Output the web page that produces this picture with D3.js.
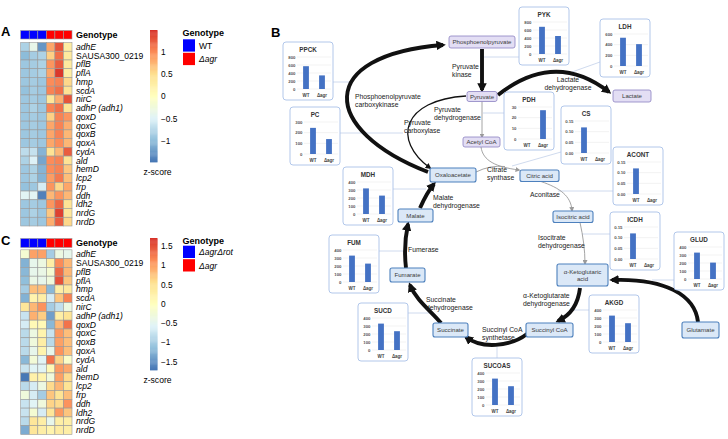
<!DOCTYPE html>
<html><head><meta charset="utf-8">
<script src="https://cdn.jsdelivr.net/npm/d3@7"></script>
<style>body{margin:0;background:#fff}svg{display:block;font-family:"Liberation Sans",Arial,sans-serif}</style>
</head><body><svg id="c" width="728" height="439"></svg>
<script>
// ---------------- DATA ----------------
const genes = ["adhE","SAUSA300_0219","pflB","pflA","hmp","scdA","nirC","adhP (adh1)","qoxD","qoxC","qoxB","qoxA","cydA","ald","hemD","lcp2","frp","ddh","ldh2","nrdG","nrdD"];
const genotypesA = ["WT","WT","WT","Δagr","Δagr","Δagr"];
const genotypesC = ["ΔagrΔrot","ΔagrΔrot","ΔagrΔrot","Δagr","Δagr","Δagr"];
const zA = [
 [-0.8,-0.35,-1.25,0.85,1.3,0.3],
 [-1.0,-0.85,-0.8,0.6,1.15,0.35],
 [-0.9,-0.85,-0.8,0.95,1.25,0.35],
 [-0.9,-0.85,-0.8,0.85,1.45,0.3],
 [-0.9,-0.85,-0.9,1.0,1.05,0.55],
 [-0.95,-0.85,-0.9,1.05,1.15,0.45],
 [-0.9,-0.85,-0.9,0.4,0.8,1.3],
 [-0.9,-0.8,-0.9,1.05,1.15,0.45],
 [-0.9,-0.85,-0.9,0.6,1.05,0.95],
 [-0.9,-0.85,-0.9,0.85,1.05,0.8],
 [-0.9,-0.85,-0.9,0.85,1.05,0.75],
 [-0.9,-0.85,-0.9,0.85,1.0,0.75],
 [-0.7,-0.65,-1.05,0.45,0.75,1.25],
 [-0.8,-0.5,-1.15,1.0,1.05,0.45],
 [-0.9,-0.8,-1.05,1.0,1.05,0.65],
 [-0.9,-0.8,-1.05,0.9,1.1,0.7],
 [-0.95,-0.9,-0.55,0.95,0.55,0.85],
 [-0.45,-0.45,-1.4,0.75,0.95,0.75],
 [-0.9,-0.85,-0.9,0.95,1.2,0.45],
 [-0.9,-0.8,-0.9,0.65,1.4,0.4],
 [-0.9,-0.85,-0.9,0.8,1.25,0.55]
];
const zC = [
 [-0.2,1.0,1.0,-1.0,-0.35,-0.45],
 [-1.25,-0.45,-0.35,0.3,1.15,0.85],
 [-1.2,-0.45,-0.4,-0.2,1.35,0.85],
 [-1.15,-0.4,-0.45,-0.3,1.5,0.75],
 [-1.0,0.8,0.8,-1.2,0.3,0.4],
 [-1.25,0.2,0.3,-0.65,0.75,1.2],
 [0.45,0.85,1.1,-1.0,-0.8,-0.35],
 [-0.75,0.9,0.7,-1.4,0.3,0.5],
 [-0.65,0.1,0.1,-1.2,0.85,1.3],
 [-0.85,-0.35,0.2,-0.75,1.05,0.8],
 [-0.85,-0.3,0.3,-0.85,1.0,0.8],
 [-0.85,-0.45,0.2,-0.45,1.1,0.8],
 [-1.2,-0.25,-0.55,1.3,0.65,-0.1],
 [-0.75,-0.55,-0.55,0.1,1.05,0.95],
 [-1.7,0.25,0.2,-0.3,1.0,0.6],
 [-0.85,-0.65,-0.35,0.6,0.85,0.5],
 [-0.3,-0.65,-1.0,0.75,0.5,0.8],
 [-0.75,-0.55,-0.3,0.65,0.6,1.1],
 [-0.75,-0.2,-0.65,0.45,1.05,0.75],
 [-0.85,0.45,0.3,-0.45,0.3,0.3],
 [-1.3,0.45,0.3,0.2,0.35,0.3]
];
const zRangeA = [-1.47, 1.49];
const zRangeC = [-1.72, 1.71];
const zTicksA = [1, 0.5, 0, -0.5, -1];
const zTicksC = [1.5, 1, 0.5, 0, -0.5, -1, -1.5];

const enzymes     = ["PPCK","PC","PYK","LDH","PDH","CS","ACONT","ICDH","GLUD","MDH","FUM","SUCD","AKGD","SUCOAS"];
const wtActivity  = [570, 245, 680, 530, 0, 0.12, 0.12, 0.12, 330, 320, 330, 330, 330, 330];
const agrActivity = [340, 140, 450, 410, 27, 0, 0, 0, 205, 230, 230, 235, 235, 235];
const activityMax = [800, 300, 800, 600, 30, 0.15, 0.15, 0.15, 400, 400, 400, 400, 400, 400];
const activityStep= [200, 100, 200, 200, 10, 0.05, 0.05, 0.05, 100, 100, 100, 100, 100, 100];
const strains = ["WT","Δagr"];

// ---------------- LAYOUT ----------------
const svg = d3.select("#c");
svg.append("rect").attr("width",728).attr("height",439).attr("fill","#fff");

const colorStops = ["#4575b4","#91bfdb","#e0f3f8","#ffffbf","#fee090","#fc8d59","#d73027"];
function makeColor(range){
  return d3.scaleLinear().domain(d3.range(7).map(i=>range[0]+(range[1]-range[0])*i/6)).range(colorStops).interpolate(d3.interpolateRgb);
}

function heatmap(z, geno, range, ticks, legendNames, cfg){
  const g = svg.append("g");
  const color = makeColor(range);
  const x = d3.scaleBand().domain(d3.range(6)).range([20.7,72]);
  const y = d3.scaleBand().domain(genes).range([cfg.c0,cfg.c1]);
  const gColor = d3.scaleOrdinal().domain(legendNames).range(["#0000ff","#ff0000"]);
  g.selectAll("rect.h").data(geno).join("rect").attr("class","h")
    .attr("x",(d,i)=>x(i)).attr("y",cfg.h0).attr("width",x.bandwidth()).attr("height",cfg.h1-cfg.h0)
    .attr("fill",d=>gColor(d)).attr("stroke","#999").attr("stroke-width",0.6);
  g.append("text").attr("x",76).attr("y",(cfg.h0+cfg.h1)/2+3.3).attr("font-size",9).attr("font-weight","bold").text("Genotype");
  z.forEach((row,ri)=>{
    g.selectAll(null).data(row).join("rect")
      .attr("x",(d,i)=>x(i)).attr("y",y(genes[ri])).attr("width",x.bandwidth()).attr("height",y.bandwidth())
      .attr("fill",d=>color(d)).attr("stroke","#999").attr("stroke-width",0.6);
  });
  g.selectAll("text.gl").data(genes).join("text").attr("class","gl")
    .attr("x",76).attr("y",d=>y(d)+y.bandwidth()/2+3.1).attr("font-size",8.6)
    .attr("font-style",d=>d.startsWith("SAUSA")?"normal":"italic").text(d=>d);
  const cb = d3.scaleLinear().domain(range).range([cfg.b1,cfg.b0]);
  const n = 120;
  g.selectAll("rect.cb").data(d3.range(n)).join("rect").attr("class","cb")
    .attr("x",150).attr("width",7.5)
    .attr("y",i=>cb(range[0]+(range[1]-range[0])*(i+1)/n)).attr("height",(cfg.b1-cfg.b0)/n+0.4)
    .attr("fill",i=>color(range[0]+(range[1]-range[0])*(i+0.5)/n));
  g.selectAll("text.cbt").data(ticks).join("text").attr("class","cbt")
    .attr("x",161).attr("y",d=>cb(d)+3).attr("font-size",8.3)
    .text(d=>d3.format("")(d).replace("-","\u2212"));
  g.append("text").attr("x",157.5).attr("y",cfg.zs).attr("text-anchor","middle").attr("font-size",8.6).text("z-score");
  g.append("text").attr("x",182.5).attr("y",cfg.lt).attr("font-size",9).attr("font-weight","bold").text("Genotype");
  g.selectAll("rect.lg").data(legendNames).join("rect").attr("class","lg")
    .attr("x",183).attr("y",(d,i)=>cfg.ls+i*13.5).attr("width",12).attr("height",12.3).attr("fill",d=>gColor(d));
  g.selectAll("text.lgt").data(legendNames).join("text").attr("class","lgt")
    .attr("x",199).attr("y",(d,i)=>cfg.ls+i*13.5+9.3).attr("font-size",8.6)
    .attr("font-style",d=>d==="WT"?"normal":"italic").text(d=>d);
}

heatmap(zA, genotypesA, zRangeA, zTicksA, ["WT","Δagr"],
  {h0:30.5,h1:39,c0:42.5,c1:226,b0:30,b1:162,zs:175,lt:35.5,ls:39.3});
heatmap(zC, genotypesC, zRangeC, zTicksC, ["ΔagrΔrot","Δagr"],
  {h0:238.5,h1:247.5,c0:249.8,c1:434.5,b0:238,b1:370,zs:383,lt:244,ls:245.7});

[["A",1,36],["B",271,37],["C",1,245]].forEach(([t,x,y])=>
  svg.append("text").attr("x",x).attr("y",y).attr("font-size",13).attr("font-weight","bold").text(t));

// ---------------- PANEL B ----------------
const defs = svg.append("defs");
function marker(id,size,fill){
  defs.append("marker").attr("id",id).attr("viewBox","0 0 10 10").attr("refX",7).attr("refY",5)
    .attr("markerWidth",size).attr("markerHeight",size).attr("markerUnits","userSpaceOnUse").attr("orient","auto")
    .append("path").attr("d","M0,0 L10,5 L0,10 z").attr("fill",fill);
}
marker("ahT",9.5,"#111"); marker("ahS",6,"#111"); marker("ahG",5,"#9a9a9a");

const connectors = [[333,82,350,82],[339,133,403,133],[519,57,483,57],[600,62,572,72],[504,113,483,113],
  [561,152,512,166],[613,191,558,191],[610,234,582,234],[674,280,652,280],[589,310,574,310],
  [497,358,497,347],[407,313,431,313],[378,251,405,251],[393,189,426,189]];
svg.append("g").selectAll("line").data(connectors).join("line")
  .attr("x1",d=>d[0]).attr("y1",d=>d[1]).attr("x2",d=>d[2]).attr("y2",d=>d[3])
  .attr("stroke","#c9d6ec").attr("stroke-width",0.9);

const arrows = [
  {d:"M428,172 C320,130 315,55 443,45", t:"T"},
  {d:"M482,49 L482,90", t:"T"},
  {d:"M498,95 Q555,50 609,92", t:"T"},
  {d:"M466,96 C402,100 392,140 430,168", t:"S"},
  {d:"M482,101.5 L482,137", t:"G"},
  {d:"M481,147 C483,161 496,167 519,170", t:"G"},
  {d:"M476,172 Q490,165 505,166.5", t:"G0"},
  {d:"M541,181.5 C560,188 571,196 572,210.5", t:"G"},
  {d:"M580,222.5 C583,236 585,250 585,263.5", t:"G"},
  {d:"M698,322 C695,295 665,278 612,280", t:"T"},
  {d:"M580,288 C578,305 571,315 558,321", t:"T"},
  {d:"M527,334 C510,347 481,349 466,337", t:"T"},
  {d:"M441,323 C431,311 416,300 410,285", t:"T"},
  {d:"M406,268 C404,251 405,238 408,224", t:"T"},
  {d:"M420,208 C424,199 428,191 434,184", t:"T"}
];
svg.append("g").selectAll("path").data(arrows).join("path")
  .attr("d",a=>a.d).attr("fill","none")
  .attr("stroke",a=>a.t[0]==="G"?"#9a9a9a":"#111")
  .attr("stroke-width",a=>a.t==="T"?3.9:(a.t==="S"?1.3:0.9))
  .attr("marker-end",a=>a.t==="G0"?null:`url(#ah${a.t})`);

const metabolites = [
  {n:["Phosphoenolpyruvate"],x:449,y:36,w:66,h:12,p:true},
  {n:["Pyruvate"],x:467,y:91.5,w:30,h:10,p:true},
  {n:["Lactate"],x:613,y:90,w:38,h:12,p:true},
  {n:["Acetyl CoA"],x:463,y:137,w:37,h:10,p:true},
  {n:["Oxaloacetate"],x:430,y:168,w:46,h:14},
  {n:["Citric acid"],x:520,y:170,w:39,h:11.5},
  {n:["Isocitric acid"],x:553,y:211,w:40,h:11.5},
  {n:["α-Ketoglutaric","acid"],x:557,y:264,w:51,h:22},
  {n:["Malate"],x:398,y:209,w:35,h:13},
  {n:["Fumarate"],x:390,y:268,w:35,h:14},
  {n:["Succinate"],x:433,y:323,w:35,h:14},
  {n:["Succinyl CoA"],x:526,y:323,w:47,h:14},
  {n:["Glutamate"],x:682,y:322,w:37,h:16}
];
const mg = svg.append("g").selectAll("g").data(metabolites).join("g");
mg.append("rect").attr("x",d=>d.x).attr("y",d=>d.y).attr("width",d=>d.w).attr("height",d=>d.h).attr("rx",2)
  .attr("fill",d=>d.p?"#e3def4":"#dbe8f7").attr("stroke",d=>d.p?"#8c82c2":"#4d80bd").attr("stroke-width",d=>d.p?0.8:1.1);
mg.each(function(d){
  const s=d3.select(this);
  d.n.forEach((t,i)=>s.append("text").attr("x",d.x+d.w/2)
    .attr("y",d.y+d.h/2+2.2+(i-(d.n.length-1)/2)*7.2).attr("text-anchor","middle")
    .attr("font-size",6.1).attr("fill","#3a3a3a").text(t));
});

const enzymeLabels = [
  {t:["Pyruvate","kinase"],x:452,y:67,a:"start"},
  {t:["Lactate","dehydrogenase"],x:568,y:80,a:"middle"},
  {t:["Phosphoenolpyruvate","carboxykinase"],x:355,y:97,a:"start"},
  {t:["Pyruvate","dehydrogenase"],x:434,y:110,a:"start"},
  {t:["Pyruvate","carboxylase"],x:404,y:123,a:"start"},
  {t:["Citrate","synthase"],x:487,y:170,a:"start"},
  {t:["Aconitase"],x:530,y:195,a:"start"},
  {t:["Isocitrate","dehydrogenase"],x:538,y:238,a:"start"},
  {t:["α-Ketoglutarate","dehydrogenase"],x:523,y:296,a:"start"},
  {t:["Succinyl CoA","synthetase"],x:482,y:330,a:"start"},
  {t:["Succinate","dehydrogenase"],x:426,y:300,a:"start"},
  {t:["Fumerase"],x:408,y:250,a:"start"},
  {t:["Malate","dehydrogenase"],x:433,y:198,a:"start"}
];
const eg = svg.append("g").selectAll("g").data(enzymeLabels).join("g");
eg.each(function(d){
  const s=d3.select(this);
  d.t.forEach((t,i)=>s.append("text").attr("x",d.x).attr("y",d.y+2.3+i*7.2).attr("text-anchor",d.a)
    .attr("font-size",6.8).attr("fill","#222").text(t));
});

const chartPos = [[283,42],[290,107],[519,7],[600,19],[504,92],[561,106],[613,147],[610,212],[674,232],[343,167],[329,235],[358,303],[589,295],[472,358]];
enzymes.forEach((name,k)=>{
  const [x0,y0] = chartPos[k];
  const g = svg.append("g");
  g.append("rect").attr("x",x0).attr("y",y0).attr("width",50).attr("height",58).attr("rx",3)
    .attr("fill","#fff").attr("stroke","#a9c1e8").attr("stroke-width",0.9);
  g.append("text").attr("x",x0+25).attr("y",y0+10).attr("text-anchor","middle").attr("font-size",6.3)
    .attr("font-weight","bold").attr("fill","#333").text(name);
  const y = d3.scaleLinear().domain([0,activityMax[k]]).range([y0+47,y0+15]);
  const x = d3.scalePoint().domain(strains).range([x0+15,x0+47]).padding(0.5);
  const ticks = d3.range(0, activityMax[k]+activityStep[k]/2, activityStep[k]);
  const fmt = activityMax[k] < 1 ? d3.format(".2f") : d3.format("d");
  g.selectAll("line").data(ticks).join("line").attr("x1",x0+14).attr("x2",x0+48)
    .attr("y1",d=>y(d)).attr("y2",d=>y(d)).attr("stroke","#e4e4e4").attr("stroke-width",0.5);
  g.selectAll("text.t").data(ticks).join("text").attr("class","t").attr("x",x0+12.5).attr("y",d=>y(d)+1.5)
    .attr("text-anchor","end").attr("font-size",4.3).attr("font-weight","bold").attr("fill","#555").text(d=>fmt(d));
  g.selectAll("rect.b").data([wtActivity[k],agrActivity[k]]).join("rect").attr("class","b")
    .attr("x",(d,i)=>x(strains[i])-2.9).attr("width",5.8)
    .attr("y",d=>y(d)).attr("height",d=>y(0)-y(d)).attr("fill","#4472c4");
  g.selectAll("text.s").data(strains).join("text").attr("class","s").attr("x",d=>x(d)).attr("y",y0+55)
    .attr("text-anchor","middle").attr("font-size",4.5).attr("font-weight","bold").attr("fill","#444").text(d=>d);
});
</script></body></html>
